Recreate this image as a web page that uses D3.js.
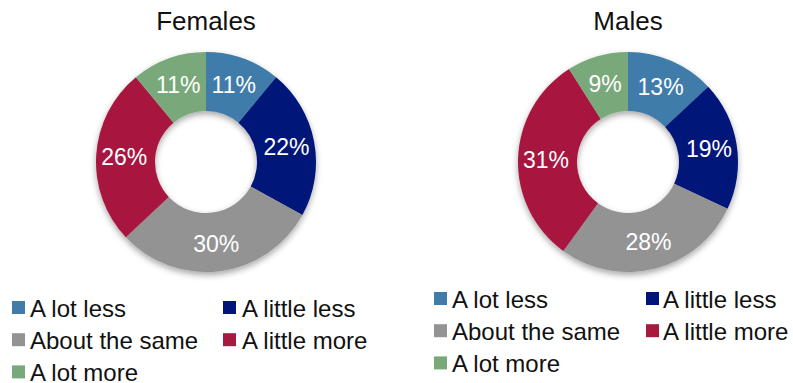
<!DOCTYPE html>
<html>
<head>
<meta charset="utf-8">
<script src="https://cdn.jsdelivr.net/npm/d3@7"></script>
<style>
  html, body { margin: 0; padding: 0; background: #fff; }
  svg { display: block; font-family: "Liberation Sans", Arial, Helvetica, sans-serif; }
</style>
</head>
<body>
<svg id="chart" width="793" height="383"></svg>
<script>
// Survey answers, shown as shares (%) for each group
const categories = ["A lot less", "A little less", "About the same", "A little more", "A lot more"];
const females = [11, 22, 30, 26, 11];
const males = [13, 19, 28, 31, 9];
const groupTitles = ["Females", "Males"];
const colors = ["#417baa", "#001479", "#939393", "#a8193f", "#79a97a"];

const svg = d3.select("#chart");

// soft shadow under each ring
const defs = svg.append("defs");
const filter = defs.append("filter").attr("id", "ringShadow")
  .attr("x", "-20%").attr("y", "-20%").attr("width", "140%").attr("height", "140%");
filter.append("feDropShadow")
  .attr("dx", 0).attr("dy", 3).attr("stdDeviation", 3)
  .attr("flood-color", "#000").attr("flood-opacity", 0.35);

const color = d3.scaleOrdinal().domain(categories).range(colors);

const pie = d3.pie().value(d => d.value).sort(null);
const arc = d3.arc().innerRadius(51).outerRadius(110);
const labelArc = d3.arc().innerRadius(82).outerRadius(82);

const panels = [
  { title: groupTitles[0], values: females, cx: 206, cy: 162,
    legend: { x: 12, textX: 30, col2: 223, col2Text: 242, base: 316.5 } },
  { title: groupTitles[1], values: males, cx: 628, cy: 162,
    legend: { x: 434, textX: 452, col2: 646, col2Text: 663, base: 307.5 } }
];

panels.forEach(p => {
  const data = categories.map((c, i) => ({ cat: c, value: p.values[i] }));
  const arcs = pie(data);

  svg.append("text")
    .attr("x", p.cx).attr("y", 30)
    .attr("text-anchor", "middle")
    .attr("font-size", 26)
    .attr("fill", "#111")
    .text(p.title);

  const g = svg.append("g").attr("transform", `translate(${p.cx},${p.cy})`);

  g.append("g").attr("filter", "url(#ringShadow)")
    .selectAll("path").data(arcs).join("path")
    .attr("d", arc)
    .attr("fill", d => color(d.data.cat));

  g.selectAll("text.pct").data(arcs).join("text")
    .attr("class", "pct")
    .attr("transform", d => `translate(${labelArc.centroid(d)})`)
    .attr("text-anchor", "middle")
    .attr("dy", "0.36em")
    .attr("font-size", 23)
    .attr("fill", "#fff")
    .text(d => d.data.value + "%");

  // two-column legend
  const L = p.legend;
  const rowGap = 32.2;
  const items = svg.append("g").selectAll("g").data(categories).join("g")
    .attr("transform", (d, i) => {
      const row = Math.floor(i / 2);
      return `translate(0,${L.base + row * rowGap})`;
    });
  items.append("rect")
    .attr("x", (d, i) => i % 2 ? L.col2 : L.x)
    .attr("y", -15.5)
    .attr("width", 13).attr("height", 13)
    .attr("fill", d => color(d));
  items.append("text")
    .attr("x", (d, i) => i % 2 ? L.col2Text : L.textX)
    .attr("y", 0)
    .attr("font-size", 24)
    .attr("fill", "#111")
    .text(d => d);
});
</script>
</body>
</html>
